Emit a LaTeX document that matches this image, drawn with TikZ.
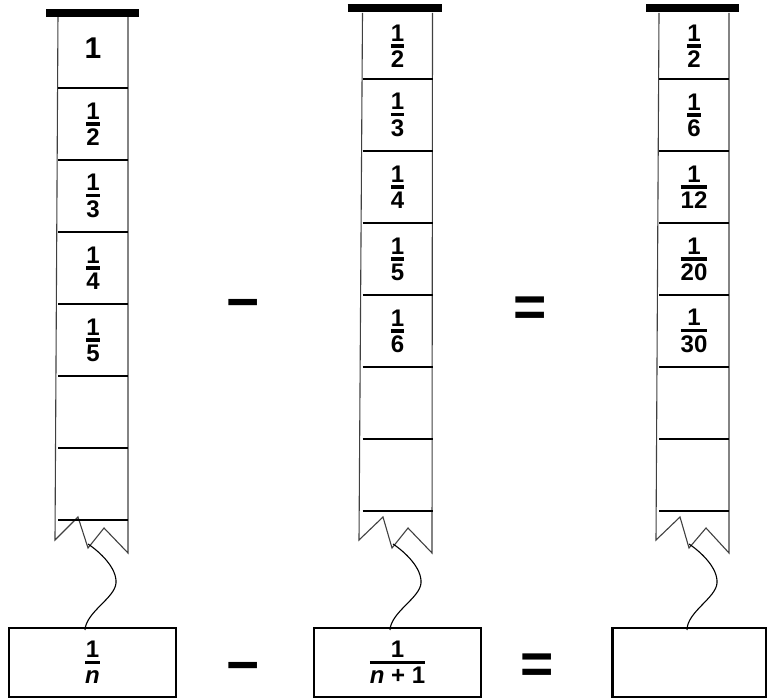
\documentclass[tikz,border=0pt]{standalone}
\usepackage{fontspec}
\setmainfont{Liberation Sans}
\usetikzlibrary{positioning}

\newlength\frcw
\newcommand{\frc}[2]{\settowidth{\frcw}{#2}\shortstack{#1\\\rule{\frcw}{3.5pt}\\\vphantom{1}#2}}

\tikzset{
  cell/.style={
    rectangle, minimum width=70pt, minimum height=72pt, inner sep=0pt, outer sep=0pt,
    font=\fontsize{24}{28}\selectfont\bfseries
  },
  side/.style={draw=black!75, line width=1.1pt, line join=miter},
  sep/.style={line width=1.8pt},
  lid/.style={line width=8pt},
  squiggle/.style={line width=1.1pt},
  answer/.style={
    rectangle, draw, line width=2.5pt, minimum width=167pt, minimum height=69pt,
    inner sep=0pt, outer sep=0pt, font=\fontsize{24}{28}\selectfont\bfseries
  },
  op/.style={inner sep=0pt, anchor=north, font=\fontsize{57}{60}\selectfont\bfseries}
}

\begin{document}
\begin{tikzpicture}[x=1pt, y=-1pt]
  \useasboundingbox (0,0) rectangle (770,700);

  % first column: 1/k
  \node[cell, minimum height=75pt, anchor=north, font=\fontsize{30}{34}\selectfont\bfseries] (a1) at (93,13) {\raisebox{4pt}{1}};
  \node[cell, below=0pt of a1] (a2) {\frc{1}{2}};
  \node[cell, below=0pt of a2] (a3) {\frc{1}{3}};
  \node[cell, below=0pt of a3] (a4) {\frc{1}{4}};
  \node[cell, below=0pt of a4] (a5) {\frc{1}{5}};
  \node[cell, below=0pt of a5] (a6) {};
  \node[cell, below=0pt of a6] (a7) {};

  % second column: 1/(k+1)
  \node[cell, minimum height=66pt, anchor=north] (b1) at (397.5,13) {\frc{1}{2}};
  \node[cell, below=0pt of b1] (b2) {\frc{1}{3}};
  \node[cell, below=0pt of b2] (b3) {\frc{1}{4}};
  \node[cell, below=0pt of b3] (b4) {\frc{1}{5}};
  \node[cell, below=0pt of b4] (b5) {\frc{1}{6}};
  \node[cell, below=0pt of b5] (b6) {};
  \node[cell, below=0pt of b6] (b7) {};

  % third column: differences
  \node[cell, minimum height=66pt, anchor=north] (c1) at (694,13) {\frc{1}{2}};
  \node[cell, below=0pt of c1] (c2) {\frc{1}{6}};
  \node[cell, below=0pt of c2] (c3) {\frc{1}{12}};
  \node[cell, below=0pt of c3] (c4) {\frc{1}{20}};
  \node[cell, below=0pt of c4] (c5) {\frc{1}{30}};
  \node[cell, below=0pt of c5] (c6) {};
  \node[cell, below=0pt of c6] (c7) {};

  % sides with torn ends
  \draw[side] (a1.north west) -- (55,540) -- (78,517) -- (88,548) -- (104,528) -- (128,553) -- (a1.north east);
  \draw[side] (b1.north west) -- (359,540) -- (383,517) -- (392,548) -- (408,528) -- (432,553) -- (b1.north east);
  \draw[side] (c1.north west) -- (656,540) -- (680,517) -- (689,548) -- (706,528) -- (729,553) -- (c1.north east);

  \foreach \n in {a2,a3,a4,a5,a6,a7,b2,b3,b4,b5,b6,b7,c2,c3,c4,c5,c6,c7}
    \draw[sep] (\n.north west) -- (\n.north east);
  \draw[sep] (a7.south west) -- (a7.south east);
  \draw[sep] (b7.south west) -- (b7.south east);
  \draw[sep] (c7.south west) -- (c7.south east);

  \draw[lid] ([xshift=-12pt]a1.north west) -- ([xshift=11pt]a1.north east);
  \draw[lid] ([xshift=-15pt, yshift=4.5pt]b1.north west) -- ([xshift=9pt, yshift=4.5pt]b1.north east);
  \draw[lid] ([xshift=-13pt, yshift=4.5pt]c1.north west) -- ([xshift=10pt, yshift=4.5pt]c1.north east);

  % bottom row
  \node[answer] (boxa) at (92.5,662.5) {\frc{1}{\textit{n}}};
  \node[answer] (boxb) at (397.5,662.5) {\frc{1}{\textit{n} + 1}};
  \node[answer, minimum width=153.5pt] (boxc) at (689,662.5) {};

  \coordinate (a-tear) at (88,544);
  \coordinate (b-tear) at (393,544);
  \coordinate (c-tear) at (689,544);
  \draw[squiggle] (a-tear) .. controls (100,552) and (117,568) .. (116,583)
    .. controls (115,598) and (86,612) .. ([xshift=-7.5pt, yshift=-2pt]boxa.north);
  \draw[squiggle] (b-tear) .. controls (405,552) and (422,568) .. (421,583)
    .. controls (420,598) and (391,612) .. ([xshift=-7.5pt, yshift=-2pt]boxb.north);
  \draw[squiggle] (c-tear) .. controls (701,552) and (718,568) .. (717,583)
    .. controls (716,598) and (687,612) .. ([xshift=-2pt, yshift=-2pt]boxc.north);

  % operators
  \node[op] (minus1) at (243,299) {−};
  \node[op] (equal1) at (530.5,297) {=};
  \node[op] (minus2) at (243,662) {−};
  \node[op] (equal2) at (537.5,654) {=};
\end{tikzpicture}
\end{document}
